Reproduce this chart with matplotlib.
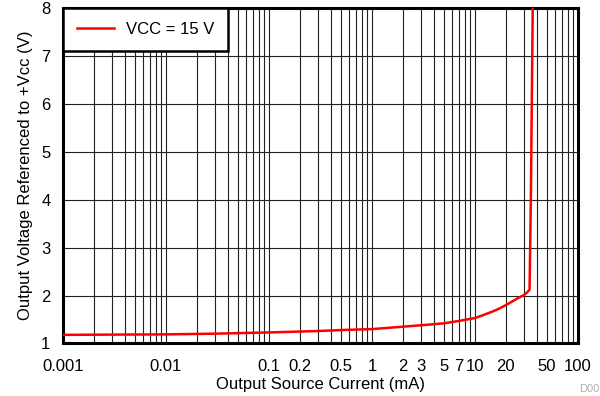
import matplotlib
matplotlib.use("Agg")
import matplotlib.pyplot as plt
from matplotlib.ticker import FixedLocator, LogLocator, NullFormatter

plt.rcParams["font.family"] = ["Liberation Sans", "DejaVu Sans"]

current_ma = [0.001, 0.003, 0.01, 0.03, 0.1, 0.3, 0.5, 1, 2, 3, 5, 7, 10, 12, 15, 17,
              20, 22, 25, 27, 30, 32, 34, 35, 36.5]
voltage = [1.18, 1.185, 1.19, 1.205, 1.23, 1.26, 1.28, 1.30, 1.35, 1.38, 1.42, 1.47, 1.53, 1.59,
           1.67, 1.72, 1.80, 1.85, 1.92, 1.96, 2.01, 2.06, 2.12, 4.0, 8.0]

xticks = [0.001, 0.01, 0.1, 0.2, 0.5, 1, 2, 3, 5, 7, 10, 20, 50, 100]
xticklabels = ["0.001", "0.01", "0.1", "0.2", "0.5", "1", "2", "3", "5", "7", "10", "20", "50", "100"]
yticks = [1, 2, 3, 4, 5, 6, 7, 8]

fig = plt.figure(figsize=(6, 3.96), dpi=100)
ax = fig.add_axes([0.105, 0.1326, 0.858, 0.848])

ax.plot(current_ma, voltage, color="#ff0000", lw=1.8, label="VCC = 15 V", zorder=3)

ax.set_xscale("log")
ax.set_xlim(0.001, 100)
ax.set_ylim(1, 8)

ax.xaxis.set_major_locator(FixedLocator(xticks))
ax.set_xticklabels(xticklabels)
ax.xaxis.set_minor_locator(LogLocator(base=10, subs=range(1, 10)))
ax.xaxis.set_minor_formatter(NullFormatter())
ax.set_yticks(yticks)

ax.grid(True, which="both", axis="x", color="#222222", lw=0.8)
ax.grid(True, which="major", axis="y", color="#222222", lw=0.8)
ax.tick_params(which="both", length=0, labelsize=12, colors="black")
ax.tick_params(axis="x", pad=11)
ax.tick_params(axis="y", pad=9)

for s in ax.spines.values():
    s.set_linewidth(2.2)
    s.set_color("black")

ax.set_xlabel("Output Source Current (mA)", fontsize=12, labelpad=2)
ax.set_ylabel("Output Voltage Referenced to +Vcc (V)", fontsize=12, labelpad=6)

leg = ax.legend(loc="upper left", fontsize=12, borderaxespad=0, fancybox=False,
                framealpha=1, edgecolor="black", handlelength=2.2, handletextpad=0.7,
                borderpad=0.85)
leg.get_frame().set_linewidth(1.8)

fig.text(0.999, 0.005, "D00", color="#b0b0b0", fontsize=8, ha="right", va="bottom")

fig.savefig("out.png", dpi=100)
